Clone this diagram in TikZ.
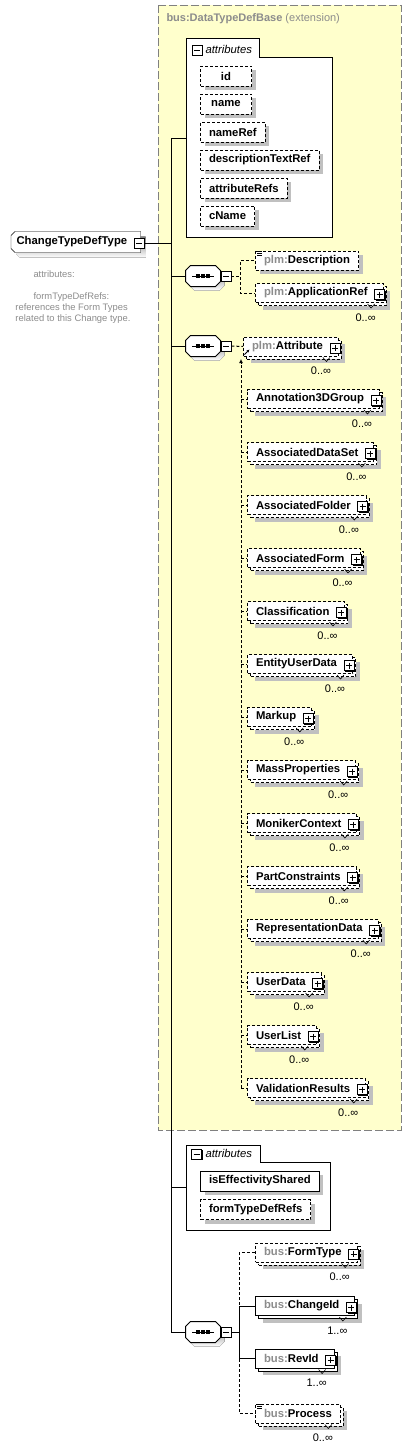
\documentclass[tikz,border=0pt]{standalone}
\usepackage{fontspec}
\setmainfont{Liberation Sans}
\usetikzlibrary{positioning,calc,shadows,arrows.meta,backgrounds}

\definecolor{extyellow}{RGB}{255,255,204}
\definecolor{extline}{RGB}{128,128,128}
\definecolor{pfxgray}{RGB}{140,140,140}
\definecolor{shade}{RGB}{192,192,192}

\newcommand\elfont{\fontsize{11.3}{13}\selectfont\bfseries}
\newcommand\pfx[1]{\textcolor{pfxgray}{#1}}
\newcommand\addplus[1]{\node[plusbox] (#1p) at ($(#1.east)+(-4,1.5)$) {};}
\newcommand\addmult[2]{%
  \draw[line width=0.6pt] ($(#1.south east)+(-16,1)$) -- ++(3.5,4) -- ++(3.5,-4);
  \node[mult] (#1m) at ($(#1.south east)+(-18,14.5)$) {#2};}
\newcommand\addlist[1]{%
  \draw[line width=0.7pt] ($(#1.north west)+(2,1)$) -- ++(5,0)
    ($(#1.north west)+(2,3)$) -- ++(5,0) ($(#1.north west)+(2,5)$) -- ++(5,0);}
%% outline of a sequence compositor
\newcommand\seqpath[1]{($(#1.north west)+(5,0)$) -- ($(#1.north east)+(-5,0)$) -- ($(#1.north east)+(0,5)$)
  -- ($(#1.south east)+(0,-5)$) -- ($(#1.south east)+(-5,0)$) -- ($(#1.south west)+(5,0)$)
  -- ($(#1.south west)+(0,-5)$) -- ($(#1.north west)+(0,5)$) -- cycle}
\newcommand\drawseq[1]{%
  \fill[shade, transform canvas={shift={(4,4)}}] \seqpath{#1};
  \draw[fill=white] \seqpath{#1};
  \draw ($(#1.center)+(-11,0)$) -- ($(#1.center)+(11,0)$);
  \foreach \dx in {-5,0,5}
    \fill ($(#1.center)+(\dx,0)$) ++(-1.7,-1.7) rectangle ++(3.4,3.4);}
%% outline of the complex type
\newcommand\typepath[1]{($(#1.north west)+(4,0)$) -- (#1.north east) -- (#1.south east)
  -- ($(#1.south west)+(4,0)$) -- ($(#1.south west)+(0,-4)$) -- ($(#1.north west)+(0,4)$) -- cycle}

\tikzset{
  dotline/.style={dash pattern=on 3pt off 2pt},
  elbox/.style={draw, fill=white, font=\elfont, minimum height=19pt,
    inner xsep=8.5pt, inner ysep=0pt, anchor=west},
  optel/.style={elbox, dotline},
  reqel/.style={elbox},
  single/.style={drop shadow={shadow xshift=4pt, shadow yshift=-4pt, fill=shade, opacity=1}},
  multi/.style={drop shadow={shadow xshift=7pt, shadow yshift=-7pt, fill=shade, opacity=1},
    copy shadow={shadow xshift=3pt, shadow yshift=-3pt, draw=black, fill=white}},
  attbox/.style={elbox, minimum height=20pt, minimum width=51pt, single},
  pmbox/.style={draw, fill=white, minimum size=10pt, inner sep=0pt, line width=0.8pt,
    drop shadow={shadow xshift=1.2pt, shadow yshift=-1.2pt, fill=black, opacity=1}},
  plusbox/.style={pmbox, path picture={
    \draw[line width=0.8pt] ([xshift=2pt]path picture bounding box.west) -- ([xshift=-2pt]path picture bounding box.east)
      ([yshift=-2pt]path picture bounding box.north) -- ([yshift=2pt]path picture bounding box.south);}},
  minusbox/.style={pmbox, path picture={
    \draw[line width=0.8pt] ([xshift=2pt]path picture bounding box.west) -- ([xshift=-2pt]path picture bounding box.east);}},
  mult/.style={font=\fontsize{11}{12}\selectfont, inner sep=0pt},
  seqcore/.style={minimum width=34pt, minimum height=20pt, inner sep=0pt},
  typebox/.style={font=\elfont, minimum height=20pt, inner xsep=5pt, inner ysep=0pt, anchor=west},
  groupbox/.style={draw, fill=white},
  note/.style={text=pfxgray, font=\fontsize{9.4}{11}\selectfont, align=left, inner sep=0pt, anchor=north west},
}

\begin{document}
\begin{tikzpicture}[x=1pt, y=-1pt, line width=1pt]
\useasboundingbox (0,0) rectangle (411,1448);

%% extension area
\draw[extline, fill=extyellow, dash pattern=on 8pt off 3pt] (158,5) rectangle (401,1130);
\node[anchor=west, text=pfxgray, font=\fontsize{11}{13}\selectfont, inner sep=0pt] (extlbl) at (166,19)
  {\textbf{bus:DataTypeDefBase} (extension)};

%% trunk
\coordinate (trunktop) at (171,138);
\coordinate (trunkbot) at (171,1332);
\coordinate (attrA) at (186,138);
\coordinate (attrB) at (186,1187);
\draw (trunktop) -- (trunkbot);

%% main type
\node[typebox] (ctd) at (11,242) {ChangeTypeDefType\hspace*{8pt}};
\begin{scope}[on background layer]
  \fill[shade, transform canvas={shift={(5,5)}}] \typepath{ctd};
  \draw[fill=white] \typepath{ctd};
\end{scope}
\node[minusbox] (ctdm) at ($(ctd.east)+(-1.5,1)$) {};
\draw (ctdm.east) -- (ctdm.east -| trunktop);
\node[note] (ctdnote) at (15,270) {\hspace*{18pt}attributes:\\ \mbox{}\\
  \hspace*{18pt}formTypeDefRefs:\\ references the Form Types\\ related to this Change type.};

%% inherited attributes
\draw[groupbox] (186,38) -- (259,38) -- (259,57) -- (332,57) -- (332,237) -- (186,237) -- cycle;
\node[minusbox] (attrAm) at (197,50) {};
\node[anchor=west, font=\fontsize{11.3}{13}\selectfont\itshape, inner sep=0pt] (attrAlbl) at (205,49) {attributes};
\draw (trunktop) -- (attrA);
\node[attbox, dotline] (id) at (200,76) {id};
\node[attbox, dotline] (name) at (200,104) {name};
\node[attbox, dotline] (nameref) at (200,132) {nameRef};
\node[attbox, dotline] (desctext) at (200,160) {descriptionTextRef};
\node[attbox, dotline] (attrrefs) at (200,188) {attributeRefs};
\node[attbox, dotline] (cname) at (200,216) {cName};

%% sequence 1
\node[seqcore] (seqA) at (203,276) {};
\drawseq{seqA}
\node[minusbox] (seqAm) at (226,276) {};
\draw (seqA.west -| trunktop) -- (seqA.west);
\node[optel, single] (desc) at (255,260.5) {\pfx{plm:}Description};
\addlist{desc}
\node[optel, multi] (appref) at (255,293) {\pfx{plm:}ApplicationRef\hspace*{7pt}};
\addplus{appref}
\addmult{appref}{0..∞}
\draw[dotline] (seqAm.east) -- ++(9,0) |- (desc.west);
\draw[dotline] (seqAm.east) -- ++(9,0) |- (appref.west);

%% sequence 2
\node[seqcore] (seqB) at (203,346) {};
\drawseq{seqB}
\node[minusbox] (seqBm) at (226,346) {};
\draw (seqB.west -| trunktop) -- (seqB.west);
\node[optel, multi] (attr) at (243,346.5) {\pfx{plm:}Attribute\hspace*{7pt}};
\addplus{attr}
\addmult{attr}{0..∞}
\draw[-{Latex[length=3pt,width=3pt]}, line width=0.8pt] ($(attr.south west)+(1.5,-2)$) -- ++(5,-5);
\draw[dotline] (seqBm.east) -- (attr.west);

%% substitution group
\coordinate (sgtop) at (241,359);
\coordinate (sgbot) at (241,1088);
\draw[dotline, -{Latex[length=4pt,width=4pt]}] (sgbot) -- (sgtop);
\foreach \nm [count=\i from 0] in {Annotation3DGroup, AssociatedDataSet, AssociatedFolder,
  AssociatedForm, Classification, EntityUserData, Markup, MassProperties, MonikerContext,
  PartConstraints, RepresentationData, UserData, UserList, ValidationResults}
{
  \node[optel, multi] (sub\i) at (247,{399+53*\i}) {\nm\hspace*{7pt}};
  \addplus{sub\i}
  \addmult{sub\i}{0..∞}
  \draw[dotline] (sub\i.west -| sgtop) -- (sub\i.west);
}

%% own attributes
\draw[groupbox] (186,1145) -- (260,1145) -- (260,1162) -- (330,1162) -- (330,1230) -- (186,1230) -- cycle;
\node[minusbox] (attrBm) at (196.5,1154) {};
\node[anchor=west, font=\fontsize{11.3}{13}\selectfont\itshape, inner sep=0pt] (attrBlbl) at (205,1153) {attributes};
\draw (attrB -| trunktop) -- (attrB);
\node[attbox] (effshared) at (200,1181) {isEffectivityShared};
\node[attbox, dotline] (formrefs) at (200,1209.5) {formTypeDefRefs};

%% sequence 3
\node[seqcore] (seqC) at (203,1332) {};
\drawseq{seqC}
\node[minusbox] (seqCm) at (226,1332) {};
\draw (trunkbot) -- (seqC.west);
\node[optel, multi] (formtype) at (255,1252.5) {\pfx{bus:}FormType\hspace*{7pt}};
\addplus{formtype}
\addmult{formtype}{0..∞}
\node[reqel, multi] (changeid) at (255,1306) {\pfx{bus:}ChangeId\hspace*{7pt}};
\addplus{changeid}
\addmult{changeid}{1..∞}
\node[reqel, multi] (revid) at (255,1358.5) {\pfx{bus:}RevId\hspace*{7pt}};
\addplus{revid}
\addmult{revid}{1..∞}
\node[optel, multi] (process) at (255,1413.5) {\pfx{bus:}Process};
\addlist{process}
\addmult{process}{0..∞}
\draw[dotline] (seqCm.east) -- ++(8,0) |- (formtype.west);
\draw[dotline] (seqCm.east) -- ++(8,0) |- (process.west);
\draw (seqCm.east) -- ++(8,0) |- (changeid.west);
\draw (seqCm.east) -- ++(8,0) |- (revid.west);

\end{tikzpicture}
\end{document}
